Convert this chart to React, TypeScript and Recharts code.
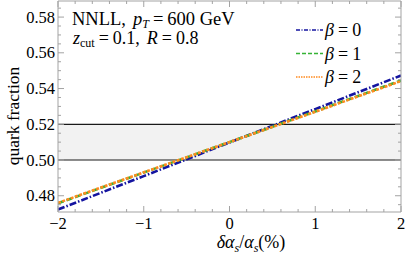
import React from "react";
import {
  Legend,
  Line,
  LineChart,
  ReferenceArea,
  ReferenceLine,
  XAxis,
  YAxis,
} from "recharts";

// δα_s/α_s in percent
const alphaShift = [-2, -1, 0, 1, 2];
const beta0 = [0.4723, 0.491, 0.5098, 0.5285, 0.5473];
const beta1 = [0.4758, 0.493, 0.51, 0.5272, 0.5445];
const beta2 = [0.476, 0.4931, 0.51, 0.527, 0.5442];

const xMajorTicks = [-2, -1, 0, 1, 2];
const xAllTicks = [
  -2, -1.8, -1.6, -1.4, -1.2, -1, -0.8, -0.6, -0.4, -0.2, 0, 0.2, 0.4, 0.6, 0.8, 1, 1.2, 1.4,
  1.6, 1.8, 2,
];
const yMajorTicks = [0.48, 0.5, 0.52, 0.54, 0.56, 0.58];
const yAllTicks = [
  0.475, 0.48, 0.485, 0.49, 0.495, 0.5, 0.505, 0.51, 0.515, 0.52, 0.525, 0.53, 0.535, 0.54,
  0.545, 0.55, 0.555, 0.56, 0.565, 0.57, 0.575, 0.58, 0.585,
];
const bandLow = 0.5;
const bandHigh = 0.52;

const data = alphaShift.map((x, i) => ({ x, b0: beta0[i], b1: beta1[i], b2: beta2[i] }));

const series = [
  { key: "b0", beta: "0", color: "#1414a0", dash: "7 2 1.5 2", legendDash: "4 1.5 1 1.5" },
  { key: "b1", beta: "1", color: "#36b336", dash: "6 3", legendDash: "4 2" },
  { key: "b2", beta: "2", color: "#ff8a1f", dash: "3 1.5", legendDash: "1.5 1" },
];

const FRAME = "#a3a3a3";
const FONT = "'Liberation Serif', 'DejaVu Serif', serif";

const W = 407;
const H = 261;

const isMajor = (v: number, list: number[]) => list.some((m) => Math.abs(m - v) < 1e-9);
const fmtX = (v: number) => (v < 0 ? "\u2212" + Math.abs(v) : String(v));

function BottomTick(props: any) {
  const { x, y, payload } = props;
  const major = isMajor(payload.value, xMajorTicks);
  return (
    <g>
      <line x1={x} x2={x} y1={y} y2={y - (major ? 6 : 3)} stroke={FRAME} />
      {major && (
        <text x={x} y={y + 17} textAnchor="middle" fontFamily={FONT} fontSize={16.5} fill="#000">
          {fmtX(payload.value)}
        </text>
      )}
    </g>
  );
}

function TopTick(props: any) {
  const { x, y, payload } = props;
  const major = isMajor(payload.value, xMajorTicks);
  return <line x1={x} x2={x} y1={y} y2={y + (major ? 6 : 3)} stroke={FRAME} />;
}

function LeftTick(props: any) {
  const { x, y, payload } = props;
  const major = isMajor(payload.value, yMajorTicks);
  return (
    <g>
      <line x1={x} x2={x + (major ? 6 : 3)} y1={y} y2={y} stroke={FRAME} />
      {major && (
        <text x={x - 3} y={y + 5.5} textAnchor="end" fontFamily={FONT} fontSize={16.5} fill="#000">
          {payload.value.toFixed(2)}
        </text>
      )}
    </g>
  );
}

function RightTick(props: any) {
  const { x, y, payload } = props;
  const major = isMajor(payload.value, yMajorTicks);
  return <line x1={x} x2={x - (major ? 6 : 3)} y1={y} y2={y} stroke={FRAME} />;
}

function BetaLegend() {
  return (
    <svg width={90} height={72} style={{ overflow: "visible" }}>
      {series.map((s, i) => {
        const cy = 13 + i * 23.5;
        return (
          <g key={s.key}>
            <line x1={2} x2={29} y1={cy} y2={cy} stroke={s.color} strokeWidth={1.3} strokeDasharray={s.legendDash} />
            <text x={31} y={cy + 6} fontFamily={FONT} fontSize={18} fill="#000">
              <tspan fontStyle="italic">β</tspan>
              <tspan dx={4}>=</tspan>
              <tspan dx={4}>{s.beta}</tspan>
            </text>
          </g>
        );
      })}
    </svg>
  );
}

export default function App() {
  return (
    <div style={{ position: "absolute", left: 0, top: 0, width: W, height: H, background: "#fff" }}>
      <LineChart
        width={W}
        height={H}
        data={data}
        margin={{ top: 0, right: 5, left: 57, bottom: 48 }}
      >
        <XAxis
          xAxisId="bottom"
          dataKey="x"
          type="number"
          domain={[-2, 2]}
          allowDataOverflow
          ticks={xAllTicks}
          interval={0}
          height={1}
          tickSize={0}
          tickMargin={0}
          tickLine={false}
          axisLine={{ stroke: FRAME }}
          tick={<BottomTick />}
        />
        <XAxis
          xAxisId="top"
          orientation="top"
          dataKey="x"
          type="number"
          domain={[-2, 2]}
          allowDataOverflow
          ticks={xAllTicks}
          interval={0}
          height={1}
          tickSize={0}
          tickMargin={0}
          tickLine={false}
          axisLine={{ stroke: FRAME }}
          tick={<TopTick />}
        />
        <YAxis
          yAxisId="left"
          type="number"
          domain={[0.4709, 0.589]}
          allowDataOverflow
          ticks={yAllTicks}
          interval={0}
          width={1}
          tickSize={0}
          tickMargin={0}
          tickLine={false}
          axisLine={{ stroke: FRAME }}
          tick={<LeftTick />}
        />
        <YAxis
          yAxisId="right"
          orientation="right"
          type="number"
          domain={[0.4709, 0.589]}
          allowDataOverflow
          ticks={yAllTicks}
          interval={0}
          width={1}
          tickSize={0}
          tickMargin={0}
          tickLine={false}
          axisLine={{ stroke: FRAME }}
          tick={<RightTick />}
        />
        <ReferenceArea
          xAxisId="bottom"
          yAxisId="left"
          x1={-2}
          x2={2}
          y1={bandLow}
          y2={bandHigh}
          fill="#f2f2f2"
          fillOpacity={1}
          stroke="none"
        />
        <ReferenceLine xAxisId="bottom" yAxisId="left" y={bandLow} stroke="#1a1a1a" strokeWidth={1.2} />
        <ReferenceLine xAxisId="bottom" yAxisId="left" y={bandHigh} stroke="#1a1a1a" strokeWidth={1.2} />
        {series.map((s) => (
          <Line
            key={s.key}
            xAxisId="bottom"
            yAxisId="left"
            type="linear"
            dataKey={s.key}
            stroke={s.color}
            strokeWidth={2.6}
            strokeDasharray={s.dash}
            dot={false}
            activeDot={false}
            isAnimationActive={false}
          />
        ))}
        <Legend
          layout="vertical"
          align="center"
          verticalAlign="middle"
          content={() => <BetaLegend />}
          wrapperStyle={{ left: 294, top: 17, width: 90, height: 72 }}
        />
      </LineChart>
      <svg
        width={W}
        height={H}
        style={{ position: "absolute", left: 0, top: 0, pointerEvents: "none" }}
      >
        <text x={72} y={25} fontFamily={FONT} fontSize={18.5} fill="#000">
          NNLL,
          <tspan dx={7} fontStyle="italic">p</tspan>
          <tspan fontStyle="italic" fontSize={12} dy={3}>T</tspan>
          <tspan dy={-3} dx={4}>=</tspan>
          <tspan dx={4}>600 GeV</tspan>
        </text>
        <text x={73} y={44} fontFamily={FONT} fontSize={18} fill="#000">
          <tspan fontStyle="italic">z</tspan>
          <tspan fontSize={12} dy={3}>cut</tspan>
          <tspan dy={-3} dx={4}>=</tspan>
          <tspan dx={4}>0.1,</tspan>
          <tspan dx={7} fontStyle="italic">R</tspan>
          <tspan dx={4}>=</tspan>
          <tspan dx={4}>0.8</tspan>
        </text>
        <text x={251} y={248} textAnchor="middle" fontFamily={FONT} fontSize={18} fill="#000">
          <tspan fontStyle="italic">δα</tspan>
          <tspan fontStyle="italic" fontSize={12} dy={4}>s</tspan>
          <tspan dy={-4}>/</tspan>
          <tspan fontStyle="italic">α</tspan>
          <tspan fontStyle="italic" fontSize={12} dy={4}>s</tspan>
          <tspan dy={-4}>(%)</tspan>
        </text>
        <text
          x={0}
          y={0}
          transform="translate(19 116) rotate(-90)"
          textAnchor="middle"
          fontFamily={FONT}
          fontSize={17.5}
          fill="#000"
        >
          quark fraction
        </text>
      </svg>
    </div>
  );
}
